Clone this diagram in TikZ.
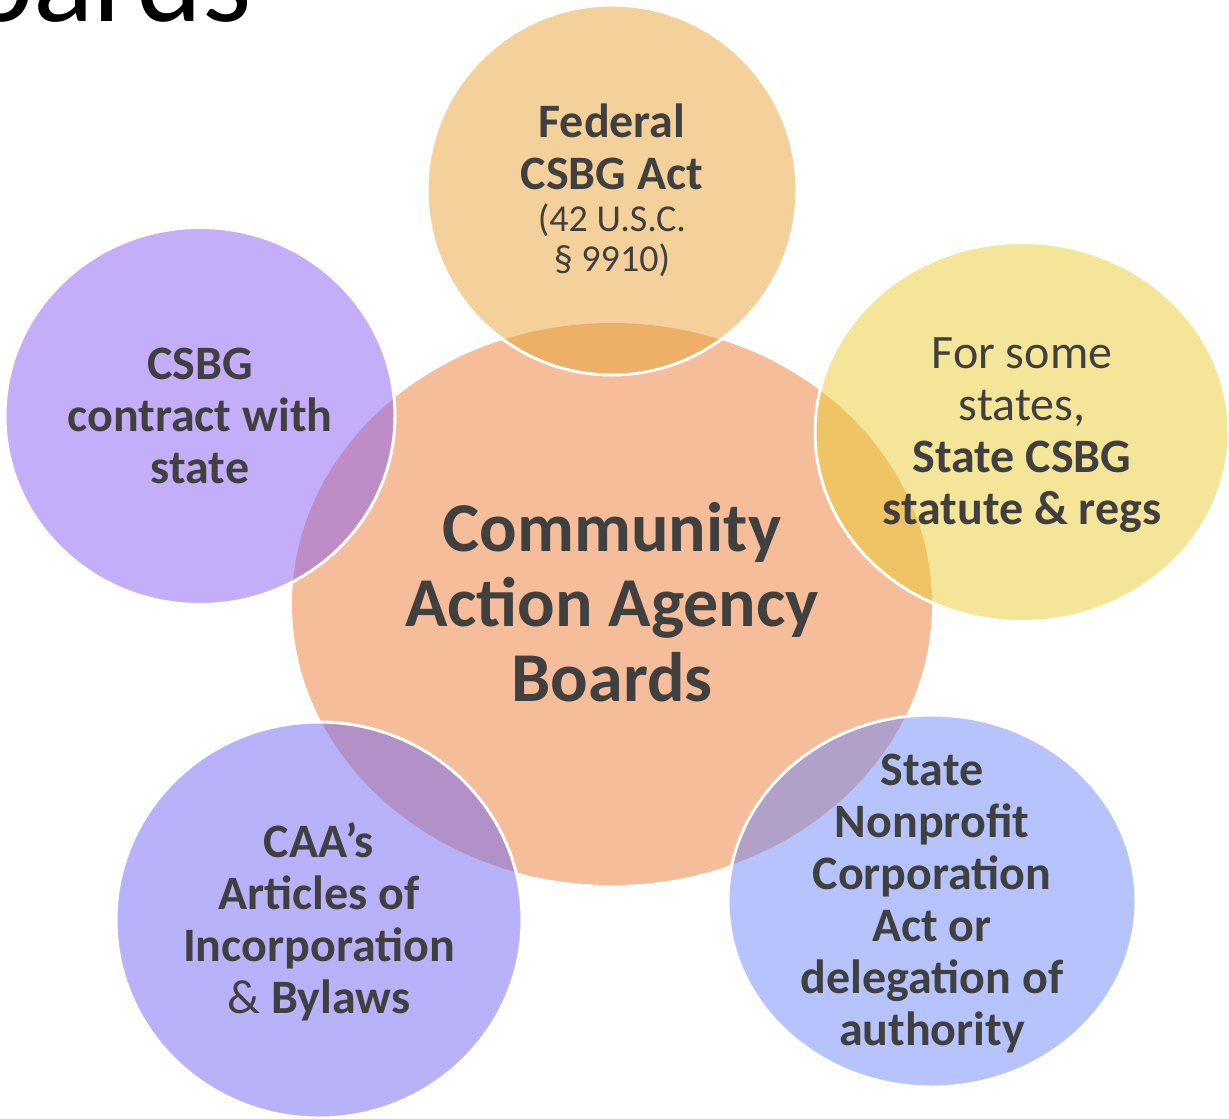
\documentclass[tikz,border=0pt]{standalone}
\usepackage{fontspec}
\setmainfont{Carlito}
\usetikzlibrary{shapes.geometric}

\definecolor{txtgray}{HTML}{404040}
\definecolor{caapeach}{HTML}{F5BD99}
\definecolor{fedorange}{RGB}{233,163,55}
\definecolor{stateyellow}{RGB}{235,203,51}
\definecolor{contractviolet}{RGB}{137,93,243}
\definecolor{bylawsblue}{RGB}{113,101,247}
\definecolor{nonprofitblue}{RGB}{111,135,249}

\begin{document}
\begin{tikzpicture}[x=0.5pt,y=-0.5pt,
	hub/.style={ellipse,inner sep=0pt,fill=caapeach},
	blob/.style={ellipse,inner sep=0pt,fill opacity=0.5,draw=white,draw opacity=1,line width=1.5pt},
	bigtxt/.style={align=center,text=txtgray,font=\fontsize{35}{37.5}\selectfont\bfseries},
	smalltxt/.style={align=center,text=txtgray,font=\fontsize{24}{26}\selectfont},
	boldtxt/.style={smalltxt,font=\fontsize{24}{26}\selectfont\bfseries}]
	\useasboundingbox (0,0) rectangle (1229,1118);
	% slide title, only its foot shows
	\begin{scope}
		\clip (0,0) rectangle (1229,1118);
		\node[anchor=base east,inner sep=0pt,font=\fontsize{63}{70}\selectfont] (title) at (252,22) {Boards};
	\end{scope}
	% the agency in the middle, the five sources around it
	\node[hub,minimum width=320pt,minimum height=281pt] (caa) at (612,604) {};
	\node[blob,fill=fedorange,minimum width=185pt,minimum height=185pt] (fed) at (612,190) {};
	\node[blob,fill=contractviolet,minimum width=195pt,minimum height=188.5pt] (contract) at (200,416) {};
	\node[blob,fill=stateyellow,minimum width=207pt,minimum height=189.5pt] (state) at (1022,432) {};
	\node[blob,fill=bylawsblue,minimum width=203pt,minimum height=198pt] (bylaws) at (319,920) {};
	\node[blob,fill=nonprofitblue,minimum width=204pt,minimum height=186pt] (nonprofit) at (932,901) {};
	% texts
	\node[bigtxt,yshift=1pt] (caa-txt) at (caa) {Community\\Action Agency\\Boards};
	\node[smalltxt] (fed-txt) at (fed) {\textbf{Federal}\\\textbf{CSBG Act}\\[-5pt]{\fontsize{19}{20}\selectfont(42 U.S.C.}\\[-6pt]{\fontsize{19}{20}\selectfont\S\ 9910)}};
	\node[boldtxt] (contract-txt) at (contract) {CSBG\\contract with\\state};
	\node[smalltxt,yshift=-1.5pt] (state-txt) at (state) {For some\\states,\\\textbf{State CSBG}\\\textbf{statute \& regs}};
	\node[smalltxt,yshift=-1pt] (bylaws-txt) at (bylaws) {\textbf{CAA’s}\\\textbf{Articles of}\\\textbf{Incorporation}\\\& \textbf{Bylaws}};
	\node[boldtxt,yshift=-1.5pt] (nonprofit-txt) at (nonprofit) {State\\Nonprofit\\Corporation\\Act or\\delegation of\\authority};
\end{tikzpicture}
\end{document}
